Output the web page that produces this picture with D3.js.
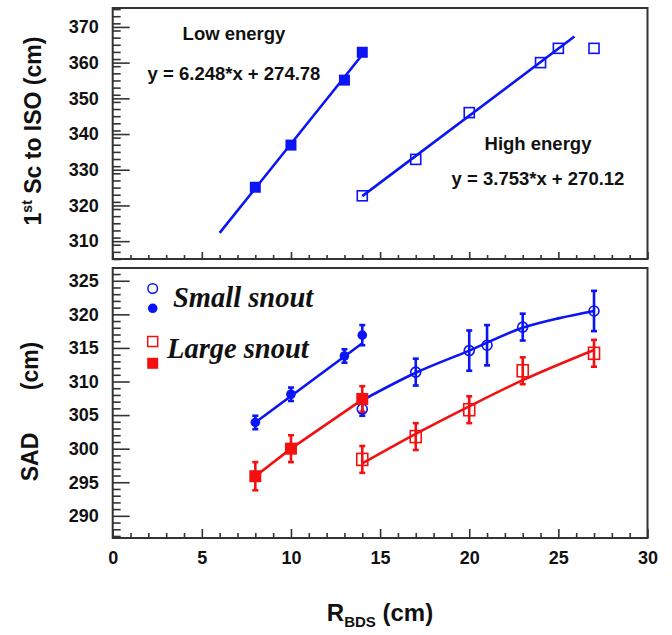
<!DOCTYPE html>
<html>
<head>
<meta charset="utf-8">
<script src="https://cdn.jsdelivr.net/npm/d3@7"></script>
<style>
  body { margin: 0; background: #fff; }
  svg text { font-family: "Liberation Sans", Arial, sans-serif; font-weight: bold; fill: #111; }
  .serif { font-family: "Liberation Serif", "Times New Roman", serif !important; font-style: italic; }
</style>
</head>
<body>
<div id="chart"></div>
<script>
// --- data ---
// top panel : 1st Sc to ISO (cm)
const lowX = [8, 10, 13, 14];
const lowY = [325.1, 336.9, 355.1, 362.9];
const lowFitX = [6, 14];
const lowFitY = [312.3, 362.2];

const highX = [14, 17, 20, 24, 25, 27];
const highY = [322.7, 332.9, 346.0, 360.0, 364.0, 364.0];
const highFitX = [14, 25.9];
const highFitY = [322.6, 367.3];

// bottom panel : SAD (cm)
const smallFilledX = [8, 10, 13, 14];
const smallFilledY = [303.9, 308.1, 313.8, 316.9];
const smallFilledErr = [1.0, 1.0, 1.0, 1.5];
const smallFilledFitX = [8, 14];
const smallFilledFitY = [303.9, 315.7];

const smallOpenX = [14, 17, 20, 21, 23, 27];
const smallOpenY = [305.9, 311.4, 314.6, 315.4, 318.1, 320.5];
const smallOpenErr = [1.0, 2.0, 3.0, 3.0, 2.0, 3.0];
const smallOpenFitX = [14, 17, 20, 23, 25, 27];
const smallOpenFitY = [307.2, 311.3, 314.6, 318.0, 319.4, 320.5];

const largeFilledX = [8, 10, 14];
const largeFilledY = [295.9, 300.0, 307.4];
const largeFilledErr = [2.1, 2.0, 1.9];
const largeFilledFitX = [8, 10, 14];
const largeFilledFitY = [295.9, 300.0, 307.3];

const largeOpenX = [14, 17, 20, 23, 27];
const largeOpenY = [298.4, 301.8, 305.8, 311.6, 314.2];
const largeOpenErr = [2.0, 2.0, 2.0, 2.0, 2.0];
const largeOpenFitX = [14, 17, 20, 23, 27];
const largeOpenFitY = [297.8, 302.2, 306.3, 310.2, 314.7];

const xTicks = [0, 5, 10, 15, 20, 25, 30];
const topYTicks = [310, 320, 330, 340, 350, 360, 370];
const botYTicks = [290, 295, 300, 305, 310, 315, 320, 325];

const BLUE = '#0a14f5', RED = '#f21010';

// --- layout ---
const W = 672, H = 635;
const svg = d3.select('#chart').append('svg').attr('width', W).attr('height', H);

const x = d3.scaleLinear().domain([0, 30]).range([112.7, 647.5]);
const yTop = d3.scaleLinear().domain([305, 375.3]).range([259, 8]);
const yBot = d3.scaleLinear().domain([286.7, 326.9]).range([538, 268]);

const zip = (xs, ys) => xs.map((v, i) => [v, ys[i]]);

function drawAxes(y, majors, minorStep, xMaj, xMin, showXLabels) {
  const [y0, y1] = y.domain();
  const g = svg.append('g');
  // frame
  g.append('rect')
    .attr('x', x(0)).attr('y', y(y1))
    .attr('width', x(30) - x(0)).attr('height', y(y0) - y(y1))
    .attr('fill', 'none').attr('stroke', '#333').attr('stroke-width', 2);

  const yMinor = d3.range(Math.ceil(y0), y1, minorStep).filter(v => !majors.includes(v));
  g.append('g').attr('transform', `translate(${x(0)},0)`)
    .call(d3.axisLeft(y).tickValues(yMinor).tickSize(-8).tickFormat(''))
    .call(a => a.select('.domain').remove());
  g.append('g').attr('transform', `translate(${x(0)},0)`)
    .call(d3.axisLeft(y).tickValues(majors).tickSize(-17).tickPadding(14).tickFormat(d3.format('d')))
    .call(a => a.select('.domain').remove())
    .call(a => a.selectAll('text').style('font-size', '18px'));

  const xMinor = d3.range(1, 30, 1).filter(v => v % 5 !== 0);
  g.append('g').attr('transform', `translate(0,${y(y0)})`)
    .call(d3.axisBottom(x).tickValues(xMinor).tickSize(-xMin).tickFormat(''))
    .call(a => a.select('.domain').remove());
  g.append('g').attr('transform', `translate(0,${y(y0)})`)
    .call(d3.axisBottom(x).tickValues(xTicks).tickSize(-xMaj).tickPadding(13)
      .tickFormat(showXLabels ? d3.format('d') : ''))
    .call(a => a.select('.domain').remove())
    .call(a => a.selectAll('text').style('font-size', '18px'));
  g.selectAll('.tick line').attr('stroke', '#333').attr('stroke-width', 1.6);
}

drawAxes(yTop, topYTicks, 2, 7, 4, false);
drawAxes(yBot, botYTicks, 1, 9, 5, true);

function fitLine(y, xs, ys, color, curve) {
  svg.append('path')
    .datum(zip(xs, ys))
    .attr('d', d3.line().x(d => x(d[0])).y(d => y(d[1])).curve(curve || d3.curveLinear))
    .attr('fill', 'none').attr('stroke', color).attr('stroke-width', 2.6);
}

function errBars(y, xs, ys, es, color) {
  const g = svg.append('g').attr('stroke', color).attr('stroke-width', 2.6);
  xs.forEach((v, i) => {
    const cx = x(v), t = y(ys[i] + es[i]), b = y(ys[i] - es[i]);
    g.append('line').attr('x1', cx).attr('x2', cx).attr('y1', t).attr('y2', b);
    g.append('line').attr('x1', cx - 3).attr('x2', cx + 3).attr('y1', t).attr('y2', t);
    g.append('line').attr('x1', cx - 3).attr('x2', cx + 3).attr('y1', b).attr('y2', b);
  });
}

function squares(y, xs, ys, color, filled, w, h) {
  svg.append('g').selectAll('rect').data(zip(xs, ys)).join('rect')
    .attr('x', d => x(d[0]) - w / 2).attr('y', d => y(d[1]) - h / 2)
    .attr('width', w).attr('height', h)
    .attr('fill', filled ? color : 'none')
    .attr('stroke', color).attr('stroke-width', filled ? 0 : 1.6);
}

function circles(y, xs, ys, color, filled, r) {
  svg.append('g').selectAll('circle').data(zip(xs, ys)).join('circle')
    .attr('cx', d => x(d[0])).attr('cy', d => y(d[1])).attr('r', r)
    .attr('fill', filled ? color : 'none')
    .attr('stroke', color).attr('stroke-width', filled ? 0 : 1.6);
}

// --- top panel ---
fitLine(yTop, lowFitX, lowFitY, BLUE);
fitLine(yTop, highFitX, highFitY, BLUE);
squares(yTop, lowX, lowY, BLUE, true, 11, 11);
squares(yTop, highX, highY, BLUE, false, 10, 10);

const topTxt = [
  ['Low energy', 234, 40], ['y = 6.248*x + 274.78', 234, 80],
  ['High energy', 538, 150], ['y = 3.753*x + 270.12', 538, 185]
];
svg.append('g').selectAll('text').data(topTxt).join('text')
  .attr('x', d => d[1]).attr('y', d => d[2]).attr('text-anchor', 'middle')
  .style('font-size', '18.5px').text(d => d[0]);

// --- bottom panel ---
fitLine(yBot, smallFilledFitX, smallFilledFitY, BLUE);
fitLine(yBot, smallOpenFitX, smallOpenFitY, BLUE, d3.curveMonotoneX);
fitLine(yBot, largeFilledFitX, largeFilledFitY, RED);
fitLine(yBot, largeOpenFitX, largeOpenFitY, RED, d3.curveMonotoneX);

errBars(yBot, smallOpenX, smallOpenY, smallOpenErr, BLUE);
errBars(yBot, smallFilledX, smallFilledY, smallFilledErr, BLUE);
errBars(yBot, largeOpenX, largeOpenY, largeOpenErr, RED);
errBars(yBot, largeFilledX, largeFilledY, largeFilledErr, RED);

circles(yBot, smallOpenX, smallOpenY, BLUE, false, 5);
circles(yBot, smallFilledX, smallFilledY, BLUE, true, 4.8);
squares(yBot, largeOpenX, largeOpenY, RED, false, 11, 12);
squares(yBot, largeFilledX, largeFilledY, RED, true, 12, 12);

// legend
const leg = svg.append('g');
leg.append('circle').attr('cx', 152.7).attr('cy', 288.5).attr('r', 4.8)
  .attr('fill', 'none').attr('stroke', BLUE).attr('stroke-width', 1.5);
leg.append('circle').attr('cx', 152.7).attr('cy', 308.3).attr('r', 4.8).attr('fill', BLUE);
leg.append('rect').attr('x', 147.7).attr('y', 336.5).attr('width', 10).attr('height', 10)
  .attr('fill', 'none').attr('stroke', RED).attr('stroke-width', 1.5);
leg.append('rect').attr('x', 147.2).attr('y', 357.8).attr('width', 11).attr('height', 11).attr('fill', RED);
leg.append('text').attr('class', 'serif').attr('x', 173).attr('y', 307)
  .style('font-size', '28.5px').text('Small snout');
leg.append('text').attr('class', 'serif').attr('x', 167).attr('y', 358)
  .style('font-size', '28.5px').text('Large snout');

// axis titles
const tTop = svg.append('text').attr('text-anchor', 'middle')
  .attr('transform', 'translate(41,131) rotate(-90)').style('font-size', '23px');
tTop.append('tspan').text('1');
tTop.append('tspan').attr('dy', -9).style('font-size', '14px').text('st');
tTop.append('tspan').attr('dy', 9).text(' Sc to ISO (cm)');

svg.append('text').attr('text-anchor', 'middle')
  .attr('transform', 'translate(38,457) rotate(-90)').style('font-size', '23px').text('SAD');
svg.append('text').attr('text-anchor', 'middle')
  .attr('transform', 'translate(38,366) rotate(-90)').style('font-size', '23px').text('(cm)');

const tX = svg.append('text').attr('text-anchor', 'middle')
  .attr('x', 380).attr('y', 621).style('font-size', '24px');
tX.append('tspan').text('R');
tX.append('tspan').attr('dy', 6).style('font-size', '15px').text('BDS');
tX.append('tspan').attr('dy', -6).text(' (cm)');
</script>
</body>
</html>
